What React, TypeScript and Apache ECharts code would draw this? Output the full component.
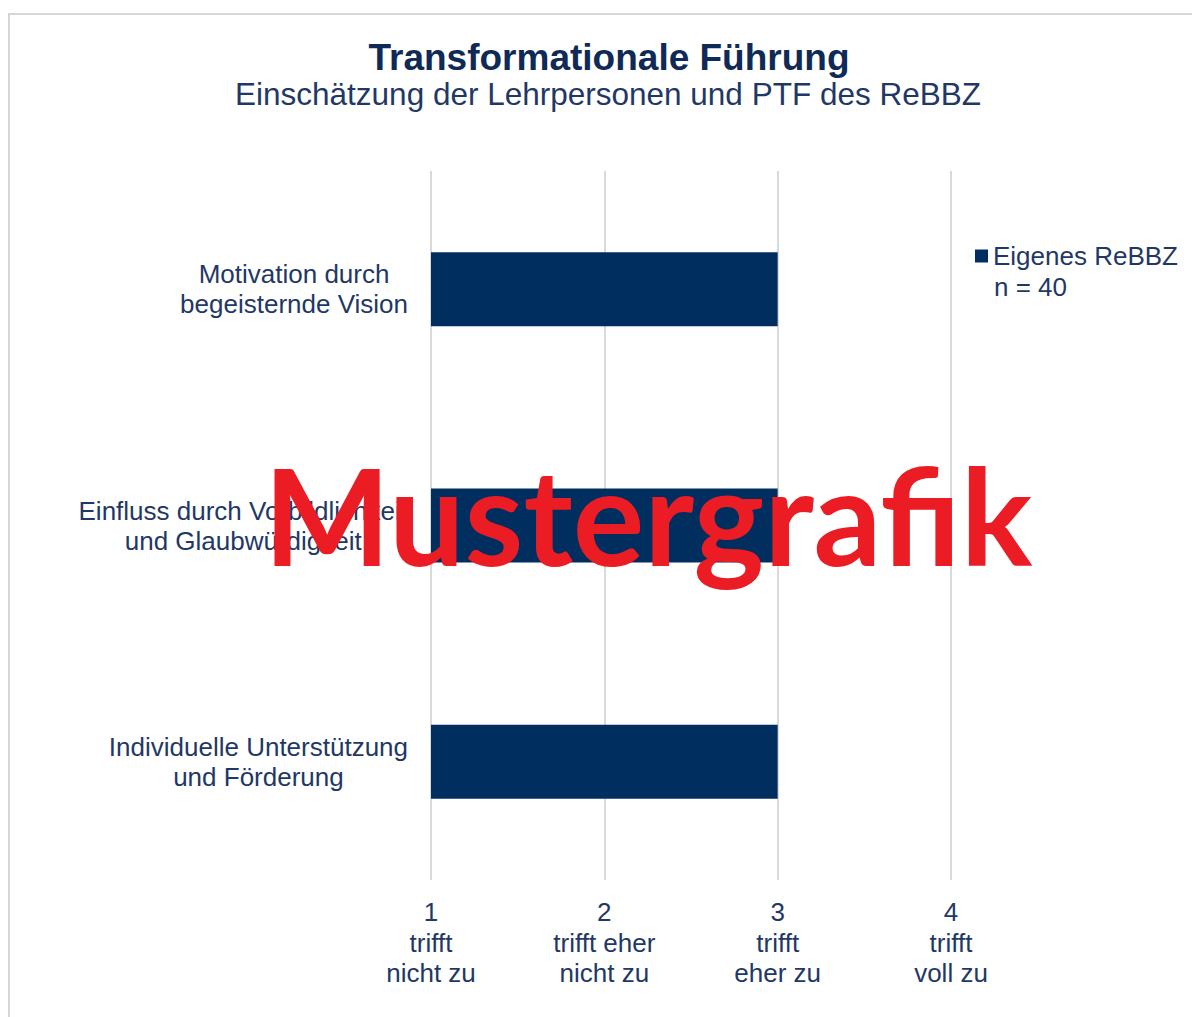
import React, { useEffect, useRef } from "react";
import * as echarts from "echarts";

const TITLE = "Transformationale Führung";
const SUBTITLE = "Einschätzung der Lehrpersonen und PTF des ReBBZ";
const categories = [
  "Motivation durch\nbegeisternde Vision",
  "Einfluss durch Vorbildlichkeit\nund Glaubwürdigkeit",
  "Individuelle Unterstützung\nund Förderung",
];
const values = [3.0, 3.0, 3.0];
const seriesName = "Eigenes ReBBZ";
const sampleNote = "n = 40";
const tickLabels: Record<number, string> = {
  1: "1\ntrifft\nnicht zu",
  2: "2\ntrifft eher\nnicht zu",
  3: "3\ntrifft\neher zu",
  4: "4\ntrifft\nvoll zu",
};
const WATERMARK = "Mustergrafik";

const TEXT = "#1f3866";
const NAVY = "#002f5f";
const FONT = "'Liberation Sans', Arial, sans-serif";

export default function App() {
  const ref = useRef<HTMLDivElement>(null);
  useEffect(() => {
    if (!ref.current) return;
    const chart = echarts.init(ref.current, undefined, { renderer: "svg" });
    chart.setOption({
      animation: false,
      backgroundColor: "#ffffff",
      title: [
        {
          text: TITLE,
          left: 604,
          top: 34,
          textAlign: "center",
          textStyle: { fontFamily: FONT, fontSize: 37, fontWeight: "bold", color: "#0f2a56" },
        },
        {
          text: SUBTITLE,
          left: 603,
          top: 73,
          textAlign: "center",
          textStyle: { fontFamily: FONT, fontSize: 31.5, fontWeight: "normal", color: TEXT },
        },
      ],
      legend: {
        left: 975,
        top: 243,
        padding: 0,
        itemWidth: 13,
        itemHeight: 13,
        icon: "rect",
        data: [seriesName],
        textStyle: { fontFamily: FONT, fontSize: 26, color: TEXT, lineHeight: 26 },
      },
      grid: { left: 431, right: 241, top: 171, bottom: 137, containLabel: false },
      xAxis: {
        type: "value",
        min: 1,
        max: 4,
        interval: 1,
        axisLine: { show: false },
        axisTick: { show: false },
        splitLine: { show: true, lineStyle: { color: "#dadada", width: 2 } },
        axisLabel: {
          margin: 17,
          fontFamily: FONT,
          fontSize: 26,
          lineHeight: 30.5,
          color: TEXT,
          align: "center",
          formatter: (v: number) => tickLabels[v] ?? "",
        },
      },
      yAxis: {
        type: "category",
        inverse: true,
        data: categories,
        axisLine: { show: false },
        axisTick: { show: false },
        axisLabel: {
          margin: 23,
          align: "right",
          formatter: (v: string) =>
            v
              .split("\n")
              .map((l) => `{c|${l}}`)
              .join("\n"),
          rich: {
            c: { align: "center", fontFamily: FONT, fontSize: 26, lineHeight: 30, color: TEXT },
          },
        },
      },
      series: [
        {
          name: seriesName,
          type: "bar",
          data: values,
          barWidth: 74,
          itemStyle: { color: NAVY },
        },
      ],
      graphic: [
        {
          type: "rect",
          shape: { x: 9, y: 14, width: 1200, height: 1020 },
          style: { fill: "none", stroke: "#d6d6d6", lineWidth: 2 },
          silent: true,
        },
        {
          type: "text",
          x: 994,
          y: 287,
          style: {
            text: sampleNote,
            fontFamily: FONT,
            fontSize: 26,
            fill: TEXT,
            verticalAlign: "middle",
            align: "left",
          },
        },
        {
          type: "text",
          x: 648,
          y: 514,
          z: 100,
          style: {
            text: WATERMARK,
            fontFamily: "Lato, 'Open Sans', sans-serif",
            fontWeight: "bold",
            fontSize: 134,
            fill: "#ec1c24",
            align: "center",
            verticalAlign: "middle",
          },
        },
      ],
    });
    return () => chart.dispose();
  }, []);
  return (
    <div
      ref={ref}
      style={{ position: "fixed", left: 0, top: 0, width: 1192, height: 1017 }}
    />
  );
}
